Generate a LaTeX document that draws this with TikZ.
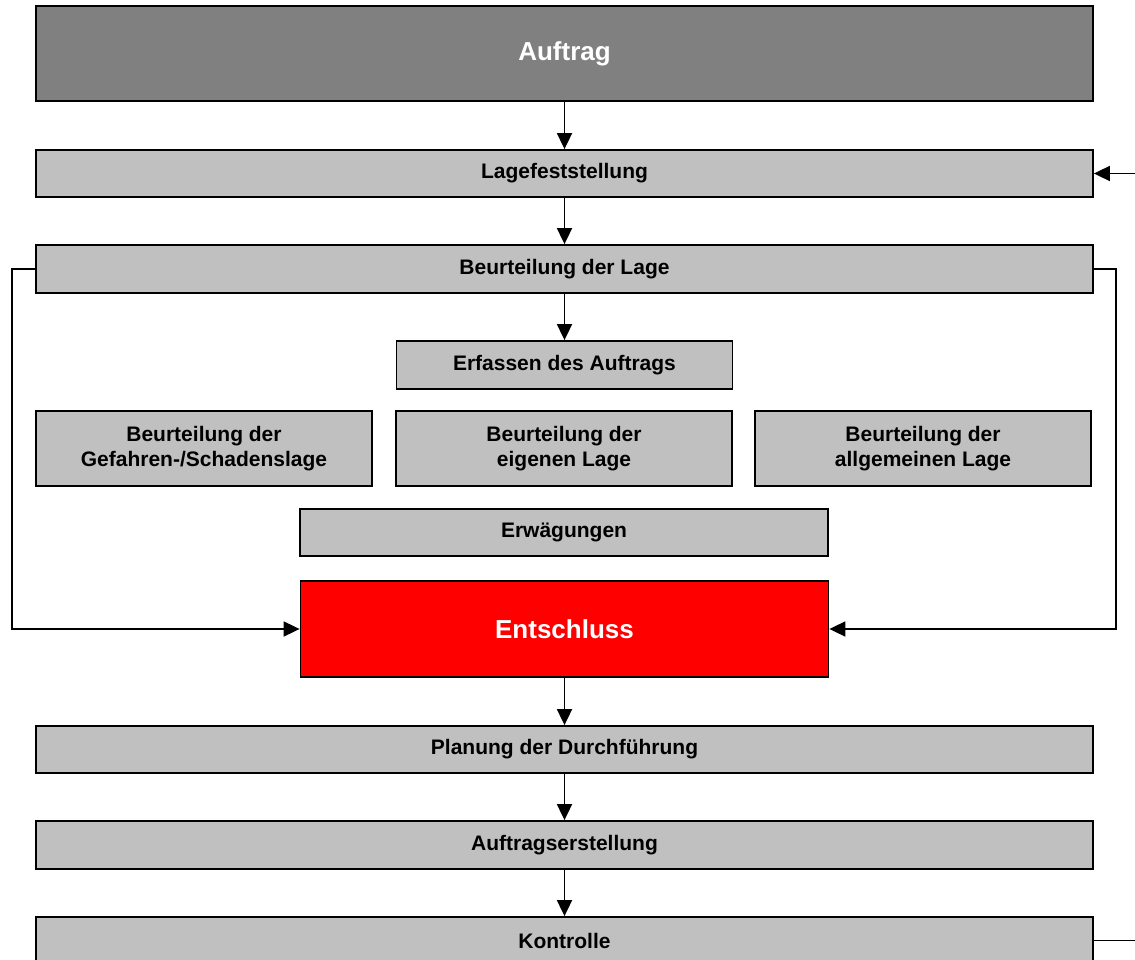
\documentclass[tikz,border=0pt]{standalone}
\usepackage{fontspec}
\setmainfont{Liberation Sans}
\usetikzlibrary{arrows.meta}
\definecolor{dgray}{HTML}{808080}
\definecolor{lgray}{HTML}{C0C0C0}
\definecolor{ered}{HTML}{FF0000}
\tikzset{
  box/.style={draw=black, line width=1.8pt, fill=lgray, rectangle, inner sep=0pt, align=center,
    font=\fontsize{21}{25}\selectfont\bfseries},
  bigbox/.style={box, font=\fontsize{26}{30}\selectfont\bfseries, text=white},
  conn/.style={line width=1.8pt, draw=black},
  arr/.style={conn, -{Triangle[length=16pt,width=15pt]}}
}
\begin{document}
\begin{tikzpicture}[x=1pt,y=-1pt]
\useasboundingbox (0,0) rectangle (1135,960);
\clip (0,0) rectangle (1135,960);
\node[bigbox, fill=dgray, minimum width=1057pt, minimum height=95pt] (auftrag) at (564.5,53.5) {Auftrag};
\node[box, minimum width=1057pt, minimum height=47pt] (lage) at (564.5,173.5) {Lagefeststellung};
\node[box, minimum width=1057pt, minimum height=48pt] (beurt) at (564.5,269) {Beurteilung der Lage};
\node[box, minimum width=336pt, minimum height=48pt] (erfassen) at (564.5,365) {Erfassen des Auftrags};
\node[box, minimum width=336pt, minimum height=75pt] (gefahr) at (204,448.5) {Beurteilung der\\Gefahren-/Schadenslage};
\node[box, minimum width=336pt, minimum height=75pt] (eigen) at (564,448.5) {Beurteilung der\\eigenen Lage};
\node[box, minimum width=336pt, minimum height=75pt] (allg) at (923,448.5) {Beurteilung der\\allgemeinen Lage};
\node[box, minimum width=528pt, minimum height=47pt] (erw) at (564,532.5) {Erwägungen};
\node[bigbox, fill=ered, minimum width=528pt, minimum height=96pt] (ent) at (564.5,629) {Entschluss};
\node[box, minimum width=1057pt, minimum height=47pt] (plan) at (564.5,749.5) {Planung der Durchführung};
\node[box, minimum width=1057pt, minimum height=48pt] (auftr) at (564.5,845) {Auftragserstellung};
\node[box, minimum width=1057pt, minimum height=47pt] (kontr) at (564.5,940.5) {Kontrolle};
\coordinate (rin) at (1140,173.5);
\coordinate (rout) at (1140,940.5);
\draw[arr] (auftrag.south) -- (lage.north);
\draw[arr] (lage.south) -- (beurt.north);
\draw[arr] (beurt.south) -- (erfassen.north);
\draw[arr] (ent.south) -- (plan.north);
\draw[arr] (plan.south) -- (auftr.north);
\draw[arr] (auftr.south) -- (kontr.north);
\draw[arr] (beurt.west) -- (12,269) |- (ent.west);
\draw[arr] (beurt.east) -- (1116,269) |- (ent.east);
\draw[arr] (rin) -- (lage.east);
\draw[conn] (kontr.east) -- (rout);
\end{tikzpicture}
\end{document}
